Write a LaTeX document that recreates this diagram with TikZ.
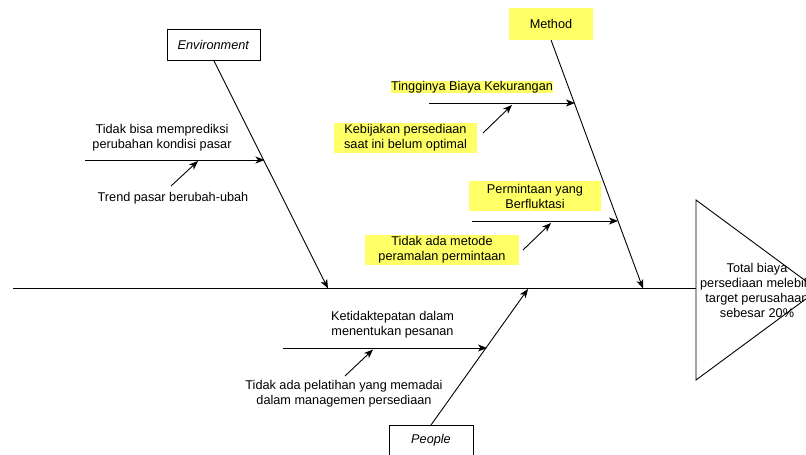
\documentclass[tikz,border=0pt]{standalone}
\usepackage{fontspec}
\setmainfont{Liberation Sans}
\usepackage{xcolor}
\definecolor{hilite}{RGB}{255,255,102}
\usepackage{tikz}
\usetikzlibrary{positioning}
\usetikzlibrary{arrows.meta}
\begin{document}
\begin{tikzpicture}[x=1pt,y=-1pt,line width=0.9pt,
	every node/.style={inner sep=1,outer sep=0,align=center,font=\fontsize{12.7}{15}\selectfont},
	catbox/.style={draw,minimum width=93,minimum height=31},
	hl/.style={fill=hilite,inner sep=0},
	arr/.style={-{Stealth[length=9pt,width=7pt,inset=2.5pt]}}]
	\useasboundingbox (0,0) rectangle (806,455);
	\clip (0,0) rectangle (806,455);
	% categories
	\node (env) [catbox] at (213.5,44.5) {\textit{Environment}};
	\node (met) [catbox,hl,draw=none,minimum width=84,minimum height=32] at (551,24) {Method};
	\node (ppl) [catbox,minimum width=84] at (431,440.5) {\textit{People}};
	% head
	\coordinate (tail) at (13,288.5);
	\coordinate (head) at (696,288.5);
	\draw (696,200) -- (818,290) -- (696,380) -- cycle;
	\node (eff) at (757,290) {Total biaya\\persediaan melebihi\\target perusahaan\\sebesar 20\%};
	\coordinate (eS) at (328,288.5);
	\coordinate (mS) at (643,288.5);
	\coordinate (pS) at (528,289);
	\draw (tail) -- (head);
	% causes
	\node (e1) at (162,138) {Tidak bisa memprediksi\\perubahan kondisi pasar};
	\node (e2) at (173,198) {Trend pasar berubah-ubah};
	\node (m1) [hl] at (472,87) {Tingginya Biaya Kekurangan};
	\node (m2) [hl,minimum width=143,minimum height=30] at (405.5,138) {Kebijakan persediaan\\saat ini belum optimal};
	\node (m3) [hl,minimum width=132,minimum height=30] at (535,196) {Permintaan yang\\Berfluktasi};
	\node (m4) [hl,minimum width=154,minimum height=30] at (442,250) {Tidak ada metode\\peramalan permintaan};
	\node (p1) at (392.5,324.5) {Ketidaktepatan dalam\\menentukan pesanan};
	\node (p2) at (344,394) {Tidak ada pelatihan yang memadai\\dalam managemen persediaan};
	\coordinate (e1a) at (85,160);
	\coordinate (e1b) at (264.5,160);
	\coordinate (e2a) at (171,186);
	\coordinate (e2b) at (198,161);
	\coordinate (m1a) at (429,103);
	\coordinate (m1b) at (575,103);
	\coordinate (m2a) at (483,133);
	\coordinate (m2b) at (512,105);
	\coordinate (m3a) at (472,221);
	\coordinate (m3b) at (618,221);
	\coordinate (m4a) at (523,250);
	\coordinate (m4b) at (551,223);
	\coordinate (p1a) at (283,348);
	\coordinate (p1b) at (487,348);
	\coordinate (p2a) at (345,376);
	\coordinate (p2b) at (373,349.5);
	\path[arr]
		(env.south) edge (eS)
		(met.south) edge (mS)
		(ppl.north) edge (pS)
		(e1a) edge (e1b)
		(e2a) edge (e2b)
		(m1a) edge (m1b)
		(m2a) edge (m2b)
		(m3a) edge (m3b)
		(m4a) edge (m4b)
		(p1a) edge (p1b)
		(p2a) edge (p2b);
\end{tikzpicture}
\end{document}
